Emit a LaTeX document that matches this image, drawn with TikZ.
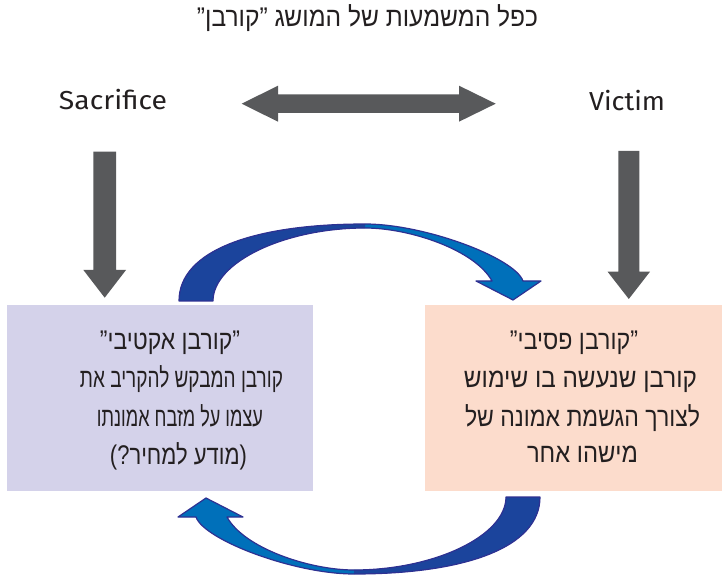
\documentclass[tikz,border=0pt]{standalone}
\usepackage{fontspec}
\usepackage{graphicx}
\setmainfont{Liberation Sans}
\newfontfamily\hebfont[Script=Hebrew]{Liberation Sans}
\newfontfamily\engfont{Fira Sans}
\TeXXeTstate=1
\definecolor{txt}{HTML}{231F20}
\definecolor{arrgray}{HTML}{58595B}
\definecolor{lav}{HTML}{D4D2EA}
\definecolor{peach}{HTML}{FCDCCC}
\definecolor{darkblue}{HTML}{1B449C}
\definecolor{lightblue}{HTML}{0070BA}
\definecolor{navy}{HTML}{2E3192}
\newcommand{\fitw}[2]{\resizebox{#1pt}{\height}{#2}}
\tikzset{
  graybar/.style={fill=arrgray, draw=none},
  engtext/.style={text=txt, font=\engfont\fontsize{26}{30}\selectfont, anchor=base, inner sep=0pt},
  hebline/.style={text=txt, anchor=base, inner sep=0pt, font=\hebfont\fontsize{27}{30}\selectfont},
  bluedark/.style={fill=darkblue, draw=none},
  bluelight/.style={fill=lightblue, draw=none},
  blueline/.style={draw=navy, line width=1.2pt, line join=round},
}
\begin{document}
\begin{tikzpicture}[x=1pt,y=-1pt]
\useasboundingbox (0,0) rectangle (724,575);
% boxes
\fill[lav] (7.3,305.5) rectangle (312.7,491);
\fill[peach] (425,305.5) rectangle (722,491);
% title
\node[hebline] (title) at (367.5,27) {\fitw{341}{\beginR כפל המשמעות של המושג ”קורבן”\endR}};
% english words
\node[engtext] (sac) at (113,110) {\fitw{108}{Sacrifice}};
\node[engtext] (vic) at (627,111) {\fitw{76}{Victim}};
% double arrow
\path[graybar] (241.7,103.7) -- (278,85.7) -- (278,94.5) -- (459,94.5) -- (459,85.7)
  -- (495.7,103.7) -- (459,121.7) -- (459,112.9) -- (278,112.9) -- (278,121.7) -- cycle;
% down arrows
\path[graybar] (93.4,151.7) -- (116,151.7) -- (116,270) -- (126,270) -- (104.7,297.7)
  -- (83.4,270) -- (93.4,270) -- cycle;
\path[graybar] (618.3,151) -- (639.3,151) -- (639.3,271.7) -- (650,271.7) -- (628.8,299)
  -- (607.6,271.7) -- (618.3,271.7) -- cycle;
% left box text
\node[hebline] (l1) at (170,349.5) {\fitw{140}{\beginR ”קורבן אקטיבי”\endR}};
\node[hebline] (l2) at (181.5,388) {\fitw{203}{\beginR קורבן המבקש להקריב את\endR}};
\node[hebline] (l3) at (180,426.5) {\fitw{166}{\beginR עצמו על מזבח אמונתו\endR}};
\node[hebline] (l4) at (178.5,464) {\fitw{137}{\beginR (מודע למחיר?)\endR}};
% right box text
\node[hebline] (r1) at (574,349.5) {\fitw{128}{\beginR ”קורבן פסיבי”\endR}};
\node[hebline] (r2) at (580.5,388) {\fitw{233}{\beginR קורבן שנעשה בו שימוש\endR}};
\node[hebline] (r3) at (582.5,426.5) {\fitw{235}{\beginR לצורך הגשמת אמונה של\endR}};
\node[hebline] (r4) at (582.5,462) {\fitw{111}{\beginR מישהו אחר\endR}};
% curved arrows
\def\arrowshape{(179,301) .. controls (179,250) and (255,224) .. (365,224)
  .. controls (425,224) and (515,258) .. (523,281) -- (541,281) -- (513,300) -- (476,281) -- (492,281)
  .. controls (475,250) and (410,228) .. (365,228)
  .. controls (285,228) and (213,262) .. (213,301) -- cycle}
\def\darkpart{(179,301) .. controls (179,250) and (255,224) .. (365,224)
  -- (365,228) .. controls (285,228) and (213,262) .. (213,301) -- cycle}
\begin{scope}
  \path[bluelight] \arrowshape;
  \path[bluedark] \darkpart;
  \path[blueline] \arrowshape;
\end{scope}
\begin{scope}[rotate around={180:(359.5,399)}]
  \path[bluelight] \arrowshape;
  \path[bluedark] \darkpart;
  \path[blueline] \arrowshape;
\end{scope}
\end{tikzpicture}
\end{document}
